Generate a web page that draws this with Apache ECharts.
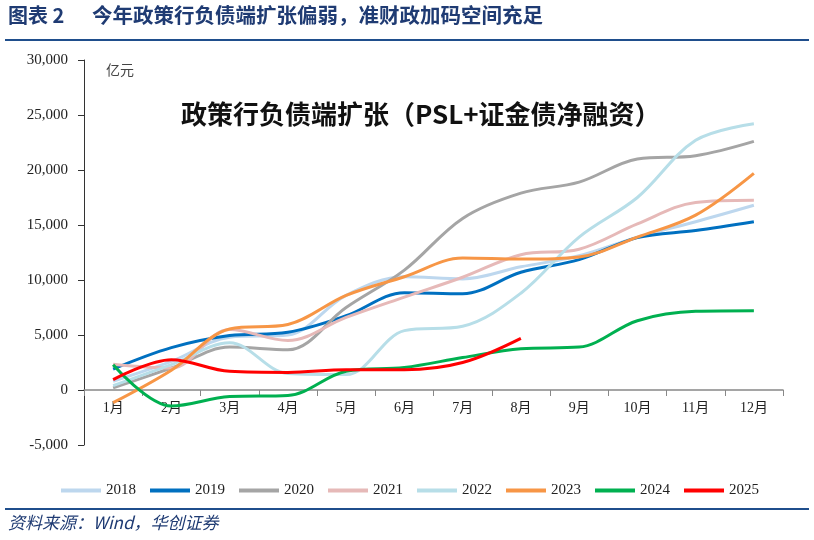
<!DOCTYPE html>
<html>
<head>
<meta charset="utf-8">
<script src="https://cdn.jsdelivr.net/npm/echarts@6/dist/echarts.min.js"></script>
<style>
html,body{margin:0;padding:0;background:#fff;}
#c{width:814px;height:540px;}
</style>
</head>
<body>
<div id="c"></div>
<script>
const months = ['1月','2月','3月','4月','5月','6月','7月','8月','9月','10月','11月','12月'];
const yTicks = [-5000, 0, 5000, 10000, 15000, 20000, 25000, 30000];
const s2018 = [800, 2600, 4800, 5000, 8600, 10300, 10100, 11200, 12200, 13900, 15300, 16800];
const s2019 = [1900, 3850, 4950, 5250, 6750, 8850, 8750, 10700, 11850, 13850, 14500, 15300];
const s2020 = [200, 2000, 3900, 3650, 7500, 10900, 15600, 17900, 18900, 21000, 21300, 22600];
const s2021 = [2350, 2000, 5500, 4500, 6600, 8450, 10250, 12300, 12800, 15100, 17050, 17250];
const s2022 = [400, 2300, 4300, 1500, 1400, 5400, 5800, 8800, 13900, 17500, 22700, 24200];
const s2023 = [-1150, 1800, 5550, 5950, 8600, 10300, 12000, 11900, 12100, 13900, 15900, 19700];
const s2024 = [2300, -1450, -600, -500, 1700, 2050, 2950, 3750, 3900, 6300, 7150, 7200];
const s2025 = [950, 2750, 1700, 1600, 1850, 1850, 2500, 4700];

const seriesDefs = [
  ['2018', s2018, '#BDD7EE'],
  ['2019', s2019, '#0070C0'],
  ['2020', s2020, '#A5A5A5'],
  ['2021', s2021, '#E6B9B8'],
  ['2022', s2022, '#B7DEE8'],
  ['2023', s2023, '#F79646'],
  ['2024', s2024, '#00B050'],
  ['2025', s2025, '#FF0000']
];

const serif = "'Liberation Serif','Noto Sans CJK SC',serif";
const gridTop = 60, gridBottom = 95, H = 540;
const yMin = yTicks[0], yMax = yTicks[yTicks.length-1];
const plotH = H - gridTop - gridBottom;
const zeroOffset = -plotH * (0 - yMin) / (yMax - yMin);

const chart = echarts.init(document.getElementById('c'), null, {renderer:'canvas'});
chart.setOption({
  animation: false,
  backgroundColor: '#fff',
  grid: {left: 84, right: 31, top: gridTop, bottom: gridBottom, containLabel: false},
  graphic: [
    {type:'text', left: 8, top: 5, style:{text:'图表 2', fill:'#1F3B73', font:"bold 20px 'Noto Sans CJK SC'"}},
    {type:'text', left: 92, top: 5, style:{text:'今年政策行负债端扩张偏弱，准财政加码空间充足', fill:'#1F3B73', font:"bold 20.5px 'Noto Sans CJK SC'"}},
    {type:'rect', shape:{x:5, y:39, width:804, height:2}, style:{fill:'#1F4E8C'}},
    {type:'text', left: 106, top: 63, style:{text:'亿元', fill:'#444', font:"14px 'Noto Sans CJK SC'"}},
    {type:'text', left: 181, top: 101, style:{text:'政策行负债端扩张（PSL+证金债净融资）', fill:'#111', font:"bold 26px 'Noto Sans CJK SC'"}},
    {type:'rect', shape:{x:5, y:508, width:804, height:2}, style:{fill:'#1F4E8C'}},
    {type:'text', left: 8, top: 514, style:{text:'资料来源：Wind，华创证券', fill:'#1F3B73', font:"italic 17px 'Noto Sans CJK SC'"}}
  ],
  legend: {
    top: 478, left: 56,
    icon: 'rect', itemWidth: 40, itemHeight: 4, itemGap: 14,
    textStyle: {fontFamily: serif, fontSize: 15, color: '#222'},
    data: seriesDefs.map(d => d[0])
  },
  xAxis: {
    type: 'category',
    data: months,
    boundaryGap: true,
    position: 'bottom',
    offset: zeroOffset,
    axisLine: {onZero: false, lineStyle: {color: '#888', width: 1.5}},
    axisTick: {show: true, length: 6, lineStyle: {color: '#888'}},
    axisLabel: {margin: 11, fontFamily: serif, fontSize: 14, color: '#222', interval: 0},
    splitLine: {show: false}
  },
  yAxis: {
    type: 'value',
    min: yMin, max: yMax, interval: 5000,
    axisLine: {show: true, lineStyle: {color: '#333', width: 1}},
    axisTick: {show: true, length: 6, lineStyle: {color: '#333'}},
    axisLabel: {margin: 16, fontFamily: serif, fontSize: 15, color: '#222',
      formatter: v => v.toLocaleString('en-US')},
    splitLine: {show: false}
  },
  series: seriesDefs.map(d => ({
    name: d[0], type: 'line', data: d[1], smooth: 0.35,
    showSymbol: false, symbol: 'none',
    lineStyle: {color: d[2], width: 3},
    itemStyle: {color: d[2]},
    z: d[0] === '2025' ? 10 : 2
  }))
});
</script>
</body>
</html>
